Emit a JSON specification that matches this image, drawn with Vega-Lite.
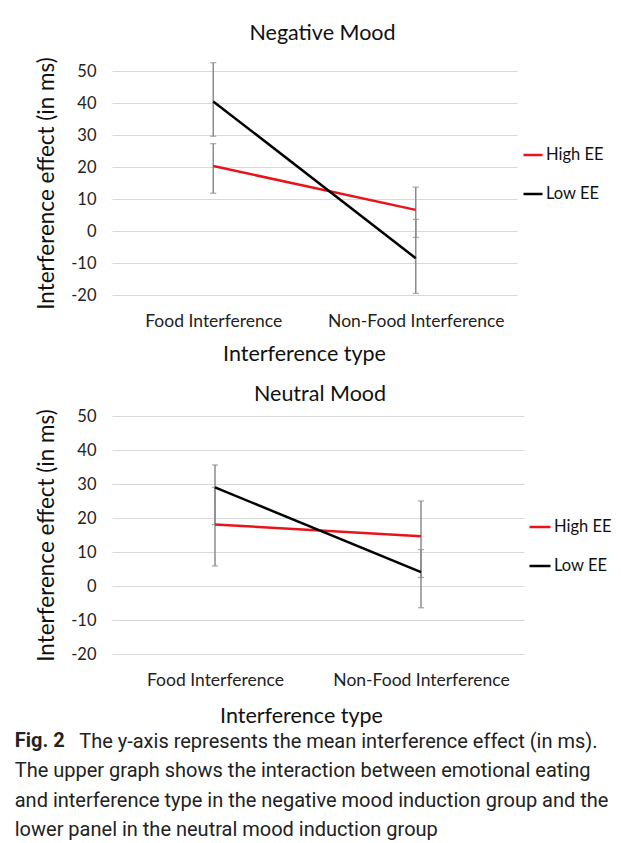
{
  "$schema": "https://vega.github.io/schema/vega-lite/v6.json",
  "padding": {"left": 14, "top": 23, "right": 0, "bottom": 5},
  "background": "white",
  "config": {
    "font": "Lato",
    "view": {"stroke": null},
    "axis": {"labelFont": "Lato", "titleFont": "Lato", "labelColor": "#222", "titleColor": "#111", "titleFontWeight": "normal", "domain": false, "ticks": false, "gridColor": "#d9d9d9", "gridWidth": 1},
    "axisY": {"labelOverlap": false, "grid": true, "labelFontSize": 16.5, "labelPadding": 16, "titleFontSize": 22.5, "titlePadding": 12},
    "title": {"font": "Lato", "fontWeight": "normal", "fontSize": 21.5, "color": "#111", "frame": "group"}
  },
  "datasets": {
    "means": [
      {"mood": "Negative", "type": "Food Interference", "group": "High EE", "mean": 20.3, "lo": 11.8, "hi": 27.3},
      {"mood": "Negative", "type": "Food Interference", "group": "Low EE", "mean": 40.5, "lo": 29.6, "hi": 52.6},
      {"mood": "Negative", "type": "Non-Food Interference", "group": "High EE", "mean": 6.6, "lo": -2.0, "hi": 13.7},
      {"mood": "Negative", "type": "Non-Food Interference", "group": "Low EE", "mean": -8.5, "lo": -19.5, "hi": 3.6},
      {"mood": "Neutral", "type": "Food Interference", "group": "High EE", "mean": 18.1, "lo": 5.9, "hi": 29.0},
      {"mood": "Neutral", "type": "Food Interference", "group": "Low EE", "mean": 29.0, "lo": 18.1, "hi": 35.6},
      {"mood": "Neutral", "type": "Non-Food Interference", "group": "High EE", "mean": 14.6, "lo": 2.5, "hi": 25.0},
      {"mood": "Neutral", "type": "Non-Food Interference", "group": "Low EE", "mean": 4.1, "lo": -6.4, "hi": 10.7}
    ]
  },
  "title": {
    "text": "Fig. 2",
    "subtitle": [
      "\u200b\u00a0\u00a0\u00a0\u00a0\u00a0\u00a0\u00a0\u00a0\u00a0\u00a0\u00a0\u00a0\u00a0The y-axis represents the mean interference effect (in ms).",
      "The upper graph shows the interaction between emotional eating",
      "and interference type in the negative mood induction group and the",
      "lower panel in the neutral mood induction group"
    ],
    "orient": "bottom",
    "anchor": "start",
    "frame": "bounds",
    "font": "Roboto",
    "fontSize": 20,
    "fontWeight": "bold",
    "color": "#222",
    "subtitleFont": "Roboto",
    "subtitleFontSize": 20,
    "subtitleFontWeight": "normal",
    "subtitleColor": "#222",
    "subtitleLineHeight": 29.3,
    "subtitlePadding": -19,
    "dx": -21,
    "offset": 4
  },
  "spacing": 18,
  "resolve": {"scale": {"color": "independent"}, "legend": {"color": "independent"}},
  "vconcat": [
    {
      "width": 405,
      "height": 224,
      "title": {"text": "Negative Mood", "offset": 12, "dx": 8},
      "data": {"name": "means"},
      "transform": [{"filter": "datum.mood === 'Negative'"}],
      "encoding": {
        "x": {"field": "type", "type": "nominal", "sort": ["Food Interference", "Non-Food Interference"], "scale": {"type": "point", "padding": 0.5},
              "axis": {"title": "Interference type", "titleX": 192, "labelAngle": 0, "labelFontSize": 17.5, "labelPadding": 17, "titleFontSize": 21.5, "titlePadding": 14, "grid": false}}
      },
      "layer": [
        {
          "mark": {"type": "rule", "color": "#8c8c8c", "strokeWidth": 1.5},
          "encoding": {
            "y": {"field": "lo", "type": "quantitative", "title": "Interference effect (in ms)", "scale": {"domain": [-20, 50], "nice": false, "zero": false},
                  "axis": {"values": [-20, -10, 0, 10, 20, 30, 40, 50], "labelExpr": "datum.value + ''"}},
            "y2": {"field": "hi"},
            "detail": {"field": "group"}
          }
        },
        {
          "mark": {"type": "tick", "color": "#8c8c8c", "size": 6, "thickness": 1.3, "orient": "horizontal"},
          "encoding": {"y": {"field": "lo", "type": "quantitative", "title": "Interference effect (in ms)",
                  "axis": {"values": [-20, -10, 0, 10, 20, 30, 40, 50], "labelExpr": "datum.value + ''"}}}
        },
        {
          "mark": {"type": "tick", "color": "#8c8c8c", "size": 6, "thickness": 1.3, "orient": "horizontal"},
          "encoding": {"y": {"field": "hi", "type": "quantitative", "title": "Interference effect (in ms)",
                  "axis": {"values": [-20, -10, 0, 10, 20, 30, 40, 50], "labelExpr": "datum.value + ''"}}}
        },
        {
          "mark": {"type": "line", "strokeWidth": 2.5},
          "encoding": {
            "y": {"field": "mean", "type": "quantitative", "title": "Interference effect (in ms)",
                  "axis": {"values": [-20, -10, 0, 10, 20, 30, 40, 50], "labelExpr": "datum.value + ''"}},
            "color": {"field": "group", "type": "nominal", "scale": {"domain": ["High EE", "Low EE"], "range": ["#e8141c", "#000000"]},
                      "legend": {"orient": "none", "legendX": 410, "legendY": 73, "title": null, "symbolType": "stroke", "symbolSize": 361, "symbolStrokeWidth": 2.5, "labelFontSize": 16.5, "labelFont": "Lato", "labelColor": "#111", "rowPadding": 19, "labelOffset": 2}}
          }
        }
      ]
    },
    {
      "width": 412,
      "height": 238,
      "title": {"text": "Neutral Mood", "offset": 3, "dx": 2},
      "data": {"name": "means"},
      "transform": [{"filter": "datum.mood === 'Neutral'"}],
      "encoding": {
        "x": {"field": "type", "type": "nominal", "sort": ["Food Interference", "Non-Food Interference"], "scale": {"type": "point", "padding": 0.5},
              "axis": {"title": "Interference type", "titleX": 189, "labelAngle": 0, "labelFontSize": 17.5, "labelPadding": 17, "titleFontSize": 21.5, "titlePadding": 17, "grid": false}}
      },
      "layer": [
        {
          "mark": {"type": "rule", "color": "#8c8c8c", "strokeWidth": 1.5},
          "encoding": {
            "y": {"field": "lo", "type": "quantitative", "title": "Interference effect (in ms)", "scale": {"domain": [-20, 50], "nice": false, "zero": false},
                  "axis": {"values": [-20, -10, 0, 10, 20, 30, 40, 50], "labelExpr": "datum.value + ''"}},
            "y2": {"field": "hi"},
            "detail": {"field": "group"}
          }
        },
        {
          "mark": {"type": "tick", "color": "#8c8c8c", "size": 6, "thickness": 1.3, "orient": "horizontal"},
          "encoding": {"y": {"field": "lo", "type": "quantitative", "title": "Interference effect (in ms)",
                  "axis": {"values": [-20, -10, 0, 10, 20, 30, 40, 50], "labelExpr": "datum.value + ''"}}}
        },
        {
          "mark": {"type": "tick", "color": "#8c8c8c", "size": 6, "thickness": 1.3, "orient": "horizontal"},
          "encoding": {"y": {"field": "hi", "type": "quantitative", "title": "Interference effect (in ms)",
                  "axis": {"values": [-20, -10, 0, 10, 20, 30, 40, 50], "labelExpr": "datum.value + ''"}}}
        },
        {
          "mark": {"type": "line", "strokeWidth": 2.5},
          "encoding": {
            "y": {"field": "mean", "type": "quantitative", "title": "Interference effect (in ms)",
                  "axis": {"values": [-20, -10, 0, 10, 20, 30, 40, 50], "labelExpr": "datum.value + ''"}},
            "color": {"field": "group", "type": "nominal", "scale": {"domain": ["High EE", "Low EE"], "range": ["#e8141c", "#000000"]},
                      "legend": {"orient": "none", "legendX": 416, "legendY": 99, "title": null, "symbolType": "stroke", "symbolSize": 441, "symbolStrokeWidth": 2.5, "labelFontSize": 16.5, "labelFont": "Lato", "labelColor": "#111", "rowPadding": 18, "labelOffset": 2}}
          }
        }
      ]
    }
  ]
}
